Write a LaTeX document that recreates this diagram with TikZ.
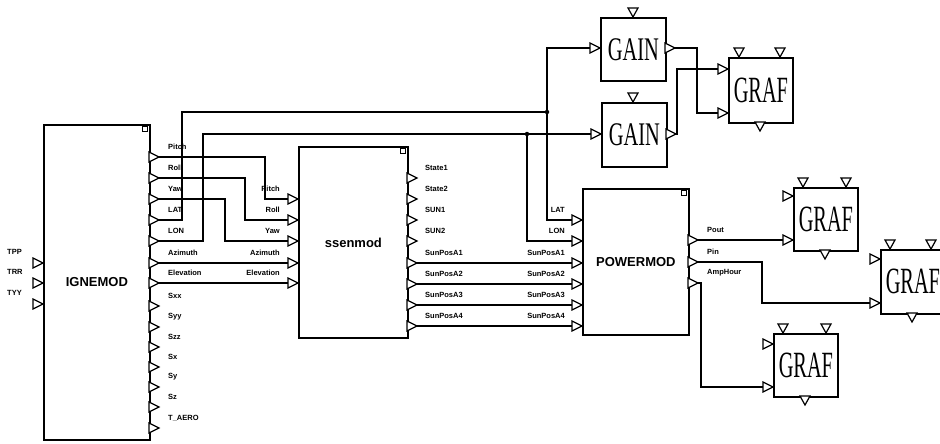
\documentclass[tikz,border=0pt]{standalone}
\usepackage{fontspec}
\setmainfont{Liberation Serif}
\setsansfont{Liberation Sans}
\usepackage{graphicx}
\newcommand\blkfont{\sffamily\bfseries\fontsize{13}{13}\selectfont}
\newcommand\lblfont{\sffamily\bfseries\fontsize{7.5}{7.5}\selectfont}
\newcommand\gafont{\rmfamily\fontsize{33}{33}\selectfont}
\newcommand\grfont{\rmfamily\fontsize{37}{37}\selectfont}
\begin{document}
\begin{tikzpicture}[x=1pt,y=-1pt,
  wire/.style={line width=1.6pt},
  blk/.style={draw, line width=1.8pt, inner sep=0pt, anchor=north west},
  port/.style={draw, line width=1.2pt, fill=white, line join=miter},
  sq/.style={draw, line width=0.9pt},
  lbl/.style={font=\lblfont, inner sep=0pt},
  jdot/.style={circle, fill, inner sep=0pt, minimum size=4.5pt},
  pr/.pic={\draw[port] (-10,-5) -- (0,0) -- (-10,5) -- cycle;},
  pd/.pic={\draw[port] (-5,-9) -- (0,0) -- (5,-9) -- cycle;}]
\useasboundingbox (0,0) rectangle (940,444);
\clip (0,0) rectangle (940,444);

% ---------------- blocks
\node[blk,minimum width=106pt,minimum height=315pt,font=\blkfont] (ign) at (43,124) {IGNEMOD};
\node[blk,minimum width=109pt,minimum height=191pt,font=\blkfont] (ssen) at (298,146) {ssenmod};
\node[blk,minimum width=106pt,minimum height=146pt,font=\blkfont] (pow) at (582,188) {POWERMOD};
\node[blk,minimum width=65pt,minimum height=63pt,font=\gafont] (gain1) at (600,17) {\scalebox{0.62}[1]{GAIN}};
\node[blk,minimum width=65pt,minimum height=64pt,font=\gafont] (gain2) at (601,102) {\scalebox{0.62}[1]{GAIN}};
\node[blk,minimum width=64pt,minimum height=65pt,font=\grfont] (grafT) at (728,57) {\scalebox{0.55}[1]{GRAF}};
\node[blk,minimum width=64pt,minimum height=63pt,font=\grfont] (grafA) at (793,187) {\scalebox{0.55}[1]{GRAF}};
\node[blk,minimum width=64pt,minimum height=64pt,font=\grfont] (grafB) at (880,249) {\scalebox{0.55}[1]{GRAF}};
\node[blk,minimum width=64pt,minimum height=63pt,font=\grfont] (grafC) at (773,333) {\scalebox{0.55}[1]{GRAF}};

\draw[sq] (142,126) rectangle (147,131);
\draw[sq] (400,148) rectangle (405,153);
\draw[sq] (681,190) rectangle (686,195);

% ---------------- port coordinates and labels
\foreach \y/\t [count=\i] in {263/TPP,283/TRR,304/TYY}
  {\coordinate (igi\i) at (43,\y); \node[lbl,anchor=west] (igil\i) at (7,\y-11) {\t};}
\foreach \y/\t [count=\i] in {157/Pitch,178/Roll,199/Yaw,220/LAT,241/LON,263/Azimuth,283/Elevation,306/Sxx,327/Syy,347/Szz,367/Sx,387/Sy,407/Sz,428/T\_AERO}
  {\coordinate (igo\i) at (159,\y); \node[lbl,anchor=west] (igol\i) at (168,\y-10) {\t};}
\foreach \y/\t [count=\i] in {199/Pitch,220/Roll,241/Yaw,263/Azimuth,283/Elevation}
  {\coordinate (ssi\i) at (298,\y); \node[lbl,anchor=east] (ssil\i) at (280,\y-10) {\t};}
\foreach \y/\t [count=\i] in {178/State1,199/State2,220/SUN1,241/SUN2,263/SunPosA1,284/SunPosA2,305/SunPosA3,326/SunPosA4}
  {\coordinate (sso\i) at (417,\y); \node[lbl,anchor=west] (ssol\i) at (425,\y-10) {\t};}
\foreach \y/\t [count=\i] in {220/LAT,241/LON,263/SunPosA1,284/SunPosA2,305/SunPosA3,326/SunPosA4}
  {\coordinate (pwi\i) at (582,\y); \node[lbl,anchor=east] (pwil\i) at (565,\y-10) {\t};}
\foreach \y/\t [count=\i] in {240/Pout,262/Pin,283/AmpHour}
  {\coordinate (pwo\i) at (698,\y); \node[lbl,anchor=west] (pwol\i) at (707,\y-10) {\t};}

\coordinate (g1i) at (600,48);  \coordinate (g1o) at (675,48);
\coordinate (g2i) at (601,134); \coordinate (g2o) at (676,134);
\coordinate (gTi1) at (728,69);  \coordinate (gTi2) at (728,113);
\coordinate (gAi1) at (793,196); \coordinate (gAi2) at (793,240);
\coordinate (gBi1) at (880,259); \coordinate (gBi2) at (880,303);
\coordinate (gCi1) at (773,344); \coordinate (gCi2) at (773,387);
\coordinate (jlat) at (547,112);
\coordinate (jlon) at (527,134);

% ---------------- wires
\draw[wire] (igo1) -- (265,157) |- (ssi1);
\draw[wire] (igo2) -- (245,178) |- (ssi2);
\draw[wire] (igo3) -- (225,199) |- (ssi3);
\draw[wire] (igo4) -- (182,220) |- (jlat);
\draw[wire] (g1i) -| (jlat);
\draw[wire] (jlat) |- (pwi1);
\draw[wire] (igo5) -- (203,241) |- (jlon);
\draw[wire] (jlon) -- (g2i);
\draw[wire] (jlon) |- (pwi2);
\draw[wire] (igo6) -- (ssi4);
\draw[wire] (igo7) -- (ssi5);
\draw[wire] (sso5) -- (pwi3);
\draw[wire] (sso6) -- (pwi4);
\draw[wire] (sso7) -- (pwi5);
\draw[wire] (sso8) -- (pwi6);
\draw[wire] (pwo1) -- (gAi2);
\draw[wire] (pwo2) -- (762,262) |- (gBi2);
\draw[wire] (pwo3) -- (701,283) |- (gCi2);
\draw[wire] (g1o) -- (697,48) |- (gTi2);
\draw[wire] (g2o) -- (677,134) |- (gTi1);
\node[jdot] (dlat) at (jlat) {};
\node[jdot] (dlon) at (jlon) {};

% ---------------- port triangles
\foreach \y in {263,283,304} \pic at (43,\y) {pr};
\foreach \y in {157,178,199,220,241,263,283,306,327,347,367,387,407,428} \pic at (159,\y) {pr};
\foreach \y in {199,220,241,263,283} \pic at (298,\y) {pr};
\foreach \y in {178,199,220,241,263,284,305,326} \pic at (417,\y) {pr};
\foreach \y in {220,241,263,284,305,326} \pic at (582,\y) {pr};
\foreach \y in {240,262,283} \pic at (698,\y) {pr};
\pic at (g1i) {pr}; \pic at (g1o) {pr}; \pic at (633,17) {pd};
\pic at (g2i) {pr}; \pic at (g2o) {pr}; \pic at (633,102) {pd};
\pic at (gTi1) {pr}; \pic at (gTi2) {pr}; \pic at (739,57) {pd}; \pic at (780,57) {pd}; \pic at (760,131) {pd};
\pic at (gAi1) {pr}; \pic at (gAi2) {pr}; \pic at (803,187) {pd}; \pic at (846,187) {pd}; \pic at (825,259) {pd};
\pic at (gBi1) {pr}; \pic at (gBi2) {pr}; \pic at (890,249) {pd}; \pic at (931,249) {pd}; \pic at (912,322) {pd};
\pic at (gCi1) {pr}; \pic at (gCi2) {pr}; \pic at (783,333) {pd}; \pic at (826,333) {pd}; \pic at (805,405) {pd};
\end{tikzpicture}
\end{document}
